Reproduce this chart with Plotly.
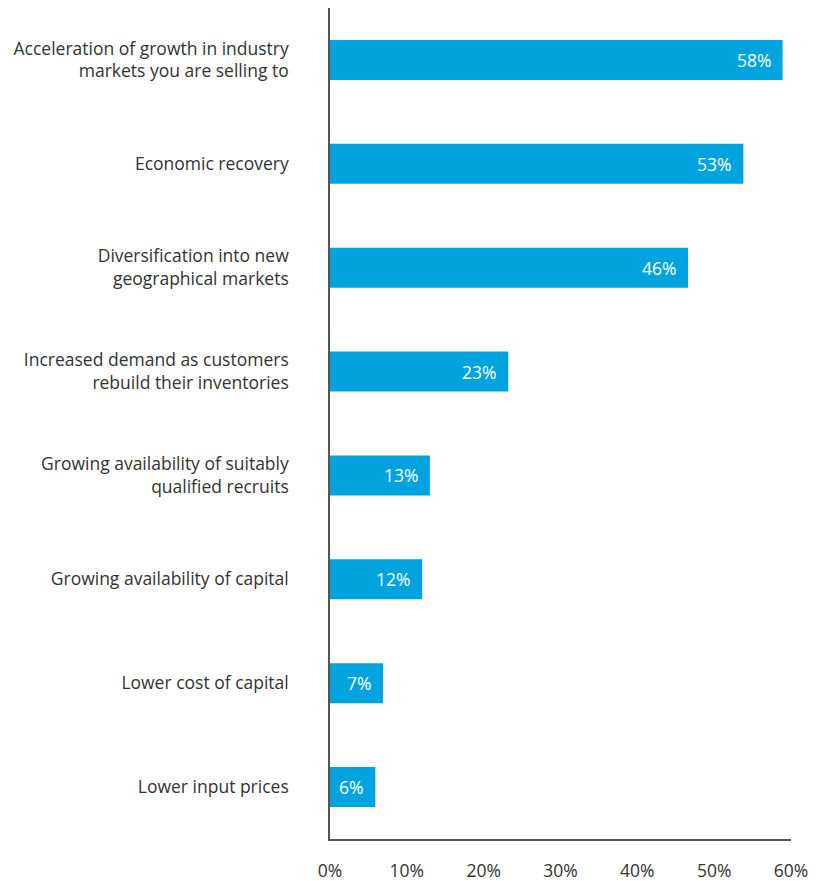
import plotly.graph_objects as go

categories = [
    "Acceleration of growth in industry<br>markets you are selling to",
    "Economic recovery",
    "Diversification into new<br>geographical markets",
    "Increased demand as customers<br>rebuild their inventories",
    "Growing availability of suitably<br>qualified recruits",
    "Growing availability of capital",
    "Lower cost of capital",
    "Lower input prices",
]
values = [58.9, 53.8, 46.6, 23.2, 13.0, 12.0, 6.9, 5.9]
value_labels = ["58%", "53%", "46%", "23%", "13%", "12%", "7%", "6%"]
tick_vals = [0, 10, 20, 30, 40, 50, 60]
tick_text = ["0%", "10%", "20%", "30%", "40%", "50%", "60%"]

FONT = "Open Sans"
FS = 17.5
BAR = "#00A3DE"

fig = go.Figure(go.Bar(
    x=values, y=categories, orientation="h",
    marker=dict(color=BAR, line=dict(width=0)),
    hoverinfo="skip",
))

for v, c, t in zip(values, categories, value_labels):
    fig.add_annotation(x=v, y=c, text=t, showarrow=False, xanchor="right",
                       xshift=-10, font=dict(family=FONT, size=FS, color="white"))

fig.update_layout(
    width=827, height=873,
    margin=dict(l=322, r=44, t=0, b=42, autoexpand=False),
    paper_bgcolor="white", plot_bgcolor="white",
    bargap=0.615,
    showlegend=False,
    font=dict(family=FONT, size=FS, color="#333333"),
    xaxis=dict(range=[0, 60], tickvals=tick_vals, ticktext=tick_text,
               showgrid=False, zeroline=False, showline=True,
               linecolor="#555555", linewidth=1.5, ticks="",
               ticklabelstandoff=15, automargin=False,
               tickfont=dict(family=FONT, size=FS, color="#333333")),
    yaxis=dict(range=[7.5, -0.5], showgrid=False, zeroline=False,
               showline=True, linecolor="#555555", linewidth=1.5, ticks="",
               ticklabelstandoff=36, automargin=False,
               tickfont=dict(family=FONT, size=FS, color="#333333")),
)

fig.write_html("out.html")
